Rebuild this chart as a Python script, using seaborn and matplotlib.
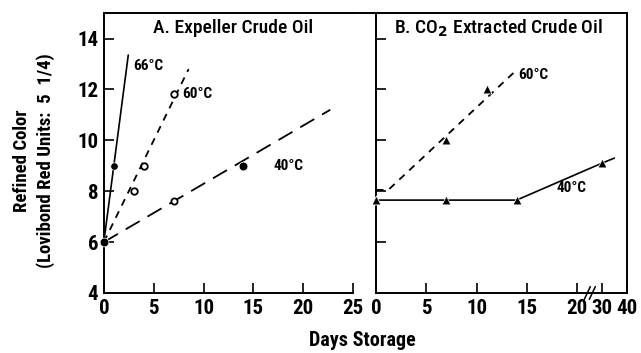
import matplotlib
matplotlib.use("Agg")
import matplotlib.pyplot as plt
import seaborn as sns
from matplotlib.lines import Line2D

# Panel A: expeller crude oil (days of storage, refined colour)
a66_days = [0, 1]
a66_color = [6, 9]
a60_days = [3, 4, 7]
a60_color = [8, 9, 11.8]
a40_days = [0, 7, 14]
a40_color = [6, 7.6, 9]
# drawn trend lines
a66_fit_days = [0, 2.45]
a66_fit_color = [6, 13.35]
a60_fit_days = [0, 8.5]
a60_fit_color = [6, 12.8]
a40_fit_days = [0, 22.7]
a40_fit_color = [6, 11.2]

# Panel B: CO2 extracted crude oil
b60_days = [0, 7, 11]
b60_color = [7.65, 10, 12]
b40_days = [0, 7, 14, 30]
b40_color = [7.65, 7.65, 7.65, 9.1]
b60_fit_days = [0, 1.2, 14.1]
b60_fit_color = [8.05, 8.05, 12.8]
b40_fit_days = [0, 14, 30, 35]
b40_fit_color = [7.65, 7.65, 9.1, 9.3]

a_xticks = [0, 5, 10, 15, 20, 25]
b_xticks = [0, 5, 10, 15, 20, 30, 40]
yticks = [4, 6, 8, 10, 12, 14]


def broken(d):
    # axis of panel B is compressed past day 20
    return d if d <= 20 else 20 + (d - 20) / 4


sns.set_style("ticks")
plt.rcParams['font.family'] = ['Roboto Condensed', 'DejaVu Sans']
plt.rcParams['font.weight'] = 'bold'
plt.rcParams['text.color'] = 'black'
plt.rcParams['axes.labelcolor'] = 'black'

fig = plt.figure(figsize=(6.41, 3.53), dpi=100)
axA = fig.add_axes([0.162, 0.170, 0.389, 0.793])
axB = fig.add_axes([0.587, 0.170, 0.391, 0.793])

k = 'black'
# ---- panel A
sns.lineplot(x=a66_fit_days, y=a66_fit_color, ax=axA, color=k, lw=1.2)
sns.lineplot(x=a60_fit_days, y=a60_fit_color, ax=axA, color=k, lw=1.3,
             linestyle=(0, (4, 3.5)))
sns.lineplot(x=a40_fit_days, y=a40_fit_color, ax=axA, color=k, lw=1.3,
             linestyle=(0, (9, 5)))
sns.scatterplot(x=a66_days, y=a66_color, ax=axA, color=k, s=28, zorder=3,
                clip_on=False)
sns.scatterplot(x=a60_days, y=a60_color, ax=axA, color='white', edgecolor=k,
                linewidth=1.3, s=22, zorder=3)
sns.scatterplot(x=a40_days[1:2], y=a40_color[1:2], ax=axA, color='white',
                edgecolor=k, linewidth=1.3, s=20, zorder=3)
sns.scatterplot(x=[a40_days[0], a40_days[2]], y=[a40_color[0], a40_color[2]],
                ax=axA, color=k, s=40, zorder=3, clip_on=False)

axA.text(2.9, 12.75, "66°C", fontsize=11)
axA.text(7.9, 11.65, "60°C", fontsize=11)
axA.text(17.0, 8.85, "40°C", fontsize=11)
axA.text(4.9, 14.2, "A. Expeller Crude Oil", fontsize=14, weight='medium')

axA.set_xlim(0, 25)
axA.set_ylim(4, 15)
axA.set_xticks(a_xticks)
axA.set_yticks(yticks)
axA.spines['right'].set_visible(False)

# ---- panel B
bx60 = [broken(d) for d in b60_fit_days]
bx40 = [broken(d) for d in b40_fit_days]
sns.lineplot(x=bx60, y=b60_fit_color, ax=axB, color=k, lw=1.3,
             linestyle=(0, (4, 3.5)))
sns.lineplot(x=bx40, y=b40_fit_color, ax=axB, color=k, lw=1.2)
sns.scatterplot(x=[broken(d) for d in b60_days], y=b60_color, ax=axB,
                color=k, marker='^', s=40, zorder=3, clip_on=False)
sns.scatterplot(x=[broken(d) for d in b40_days], y=b40_color, ax=axB,
                color=k, marker='^', s=40, zorder=3, clip_on=False)

axB.text(14.2, 12.4, "60°C", fontsize=11)
axB.text(18.0, 7.95, "40°C", fontsize=11)
axB.text(1.8, 14.2, "B. CO$_2$ Extracted Crude Oil", fontsize=14,
         weight='medium')

axB.set_xlim(0, 25)
axB.set_ylim(4, 15)
axB.set_xticks([broken(d) for d in b_xticks])
axB.set_xticklabels([str(d) for d in b_xticks])
axB.set_yticks(yticks)
axB.set_yticklabels([])

# break marks on the bottom axis of panel B
for off in (-0.25, 0.25):
    axB.plot([21.0 + off, 21.6 + off], [3.75, 4.25], color=k, lw=1.1,
             clip_on=False)

for ax in (axA, axB):
    ax.tick_params(direction='in', length=7, width=1.2, labelsize=15,
                   pad=4, color=k, labelcolor=k)
    plt.setp(ax.get_xticklabels() + ax.get_yticklabels(), fontweight='bold')
    for s in ax.spines.values():
        s.set_linewidth(1.4)
        s.set_color(k)
    ax.set_xlabel("")
    ax.set_ylabel("")

# top border joining the two panels
fig.add_artist(Line2D([0.551, 0.587], [0.963, 0.963], color=k, lw=1.4))

fig.text(0.053, 0.545, "Refined Color\n(Lovibond Red Units:  5  1/4)",
         fontsize=13.5, weight='bold', rotation=90, ha='center', va='center',
         linespacing=1.35, multialignment='center')
fig.text(0.565, 0.035, "Days Storage", fontsize=14.5, weight='bold',
         ha='center', va='center')

fig.savefig("out.png", dpi=100)
